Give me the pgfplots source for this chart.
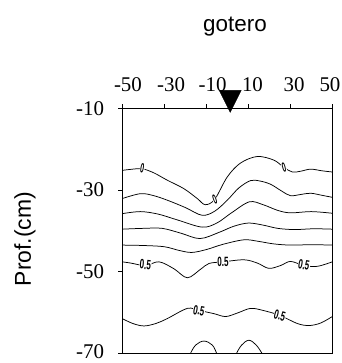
\documentclass[border=0pt]{standalone}
\usepackage{pgfplots}
\pgfplotsset{compat=1.18}
\usepackage{fontspec}
\setmainfont{Liberation Serif}
\newfontfamily\arialf{Liberation Sans}
\pgfdeclareplotmark{dtri}{%
  \pgfpathmoveto{\pgfqpoint{-11bp}{18bp}}%
  \pgfpathlineto{\pgfqpoint{11bp}{18bp}}%
  \pgfpathlineto{\pgfqpoint{0bp}{-4bp}}%
  \pgfpathclose\pgfusepathqfillstroke}
\tikzset{clab/.style={fill=white, inner sep=0.4bp, font=\arialf\bfseries\fontsize{13.5}{13.5}\selectfont}}
\newcommand{\zl}{\scalebox{0.5}[1]{0}}
\newcommand{\fl}{\scalebox{0.6}[1]{0.5}}
\begin{document}
\begin{tikzpicture}
\begin{axis}[name=ax, scale only axis, width=210bp, height=245bp,
  xmin=-50, xmax=50, ymin=-70, ymax=-10, clip=false,
  xtick={-50,-30,-10,10,30,50}, xticklabels={},
  extra x ticks={-47.3,-26.8,-7.0,12.0,31.8,48.9},
  extra x tick labels={-50,-30,-10,10,30,50},
  extra x tick style={major tick length=0pt},
  ytick={-70,-50,-30,-10}, yticklabels={\raisebox{3.5bp}{-70},-50,-30,-10},
  xtick pos=upper, xticklabel pos=upper, ytick pos=left,
  tick align=outside, major tick length=4bp,
  tick style={black, line width=0.5pt},
  axis line style={black, line width=0.7pt},
  ticklabel style={font=\fontsize{21}{21}\selectfont, inner sep=0pt},
  xticklabel shift=16bp, yticklabel shift=14bp,
  every axis plot/.append style={black, line width=0.75pt},
]
% contour lines
\addplot[smooth, tension=0.55] coordinates {(-50,-25.2) (-45,-24.9) (-40.5,-24.8) (-35,-25.8) (-28.6,-27.6) (-20.6,-29.7) (-14.3,-32.1) (-10.5,-33.6) (-6,-32.3) (0,-26.8) (6.3,-23.4) (14.3,-21.8) (22.2,-22.7) (27,-24.5) (31,-25.6) (35,-25.4) (39.7,-24.9) (45,-25.3) (50,-25.6)};
\addplot[smooth, tension=0.55] coordinates {(-50,-32.1) (-41.3,-30.9) (-35,-31.4) (-28.6,-32.5) (-20,-34.3) (-12,-36.2) (-6,-35.2) (0,-32.5) (5.5,-29.5) (11.1,-27.7) (15.5,-27.8) (20.6,-28.6) (26,-30.3) (30.1,-31.4) (35,-31.1) (39.7,-30.8) (45,-31.3) (50,-31.8)};
\addplot[smooth, tension=0.55] coordinates {(-50,-35.8) (-41.4,-35.3) (-33,-35.9) (-24,-37.3) (-12,-39.1) (-5,-38.1) (2,-35.6) (10.5,-32.9) (17,-33.6) (24,-35) (30,-35.6) (40,-35.3) (50,-35.7)};
\addplot[smooth, tension=0.55] coordinates {(-50,-39.6) (-40,-39.4) (-31,-39.4) (-22,-40.6) (-13,-41.9) (-4,-40.4) (3,-38.9) (10,-38.1) (17,-38.6) (24,-39.4) (32,-39.7) (41,-39.5) (50,-39.6)};
\addplot[smooth, tension=0.55] coordinates {(-50,-43.5) (-40,-43.6) (-30,-43.9) (-23,-44.8) (-17,-45.3) (-10,-44.6) (-2,-43.3) (8,-42.2) (15,-42.6) (22,-43.2) (30,-43.5) (40,-43.4) (50,-43.5)};
\addplot[smooth, tension=0.55] coordinates {(-50,-47.6) (-46,-47.9) (-39,-48.5) (-32.5,-47.6) (-25.4,-49.3) (-19,-51.5) (-12.7,-49.4) (-8.7,-48) (-2,-47.6) (8,-47.1) (14.3,-47.9) (19.8,-49.2) (25.4,-48.5) (30.1,-47.5) (36.5,-48.5) (42.9,-48.7) (50,-47.6)};
\addplot[smooth, tension=0.55] coordinates {(-50,-61.5) (-45,-62.7) (-39.7,-63.3) (-34,-62.7) (-28.6,-61.5) (-19,-59) (-13.5,-59.5) (-6.3,-60.3) (-0.8,-61) (5,-60.1) (11.1,-59) (17,-59.5) (25,-60.7) (33.3,-62.7) (38.9,-63.2) (44.4,-62.6) (50,-61)};
\addplot[smooth, tension=0.6] coordinates {(-17.5,-70) (-15.1,-68) (-11.1,-67) (-7.1,-68) (-5.1,-70)};
\addplot[smooth, tension=0.6] coordinates {(4.4,-70) (6.8,-68) (10.3,-66.8) (13.8,-68) (16.5,-70)};
% dripper marker
\addplot[only marks, mark=dtri, mark options={fill=black, line width=0.4pt}] coordinates {(1.4,-10)};
% contour labels
\node[clab, rotate=-10] at (axis cs:-40.5,-24.8) {\zl};
\node[clab, rotate=20] at (axis cs:-6,-32.3) {\zl};
\node[clab, rotate=15] at (axis cs:27,-24.5) {\zl};
\node[clab, rotate=-5] at (axis cs:-39,-48.3) {\fl};
\node[clab] at (axis cs:-2,-47.5) {\fl};
\node[clab, rotate=-10] at (axis cs:36.5,-48.4) {\fl};
\node[clab, rotate=-10] at (axis cs:-13.5,-59.5) {\fl};
\node[clab, rotate=-15] at (axis cs:25,-60.7) {\fl};
\end{axis}
\node[anchor=base, font=\arialf\fontsize{22.5}{22.5}\selectfont] at ([shift={(112.7bp,321.3bp)}]ax.south west) {gotero};
\node[anchor=base, rotate=90, font=\arialf\fontsize{23}{23}\selectfont] at ([shift={(-91.3bp,114.3bp)}]ax.south west) {Prof.(cm)};
\pgfresetboundingbox
\path[use as bounding box] ([shift={(-122.3bp,-9.7bp)}]ax.south west) rectangle ([shift={(219.7bp,353.3bp)}]ax.south west);
\end{tikzpicture}
\end{document}
